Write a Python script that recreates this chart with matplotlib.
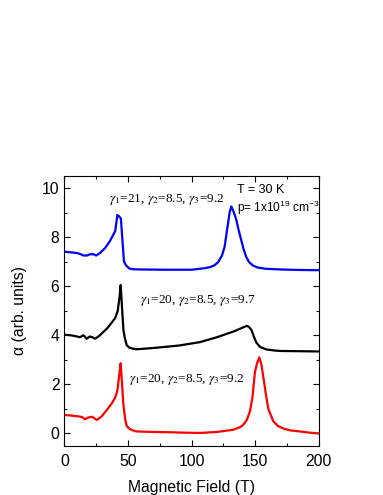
import matplotlib
matplotlib.use("Agg")
import matplotlib.pyplot as plt
from matplotlib.ticker import MultipleLocator

plt.rcParams['font.family'] = ['Liberation Sans', 'DejaVu Sans']
plt.rcParams['mathtext.fontset'] = 'custom'
plt.rcParams['mathtext.rm'] = 'Liberation Sans'
plt.rcParams['mathtext.it'] = 'Liberation Sans:italic'

# Blue curve (gamma1=21, gamma2=8.5, gamma3=9.2)
blue_x = [1, 5, 10, 13, 15, 18, 20, 23, 25, 28, 32, 36, 40, 41.7, 43, 44.5, 45.5, 46.9, 48.5, 51, 54, 60, 80, 100,
          105, 110, 115, 118, 121, 124, 126, 128, 130, 131.3, 133, 135, 137, 139, 141, 143, 145, 148, 152, 158, 170, 185, 200]
blue_y = [7.4, 7.38, 7.35, 7.3, 7.25, 7.25, 7.3, 7.3, 7.25, 7.35, 7.55, 7.85, 8.25, 8.9, 8.85, 8.75, 8.0, 7.0, 6.85, 6.72, 6.69, 6.68, 6.67, 6.67,
          6.7, 6.73, 6.78, 6.85, 6.98, 7.25, 7.6, 8.3, 9.0, 9.25, 9.05, 8.75, 8.3, 7.9, 7.5, 7.2, 7.0, 6.85, 6.76, 6.71, 6.68, 6.66, 6.65]

# Black curve (gamma1=20, gamma2=8.5, gamma3=9.7)
black_x = [0.5, 5, 10, 12.3, 15, 17.6, 20, 22, 24, 26, 28, 31, 34, 37, 40, 42, 43.5, 44.3, 45.5, 46.5, 47.5, 49, 51, 54, 57,
           70, 90, 106.7, 120, 132.9, 138, 141, 143.4, 145, 147.3, 149, 151, 154, 159, 165, 170, 185, 200]
black_y = [4.02, 4.0, 3.95, 3.92, 4.0, 3.86, 3.95, 3.92, 3.86, 3.92, 4.0, 4.15, 4.3, 4.5, 4.7, 5.0, 5.6, 6.05, 5.0, 4.2, 3.9, 3.6, 3.5, 3.45, 3.43,
           3.48, 3.58, 3.72, 3.92, 4.15, 4.26, 4.33, 4.38, 4.35, 4.2, 3.95, 3.7, 3.52, 3.42, 3.38, 3.36, 3.35, 3.34]

# Red curve (gamma1=20, gamma2=8.5, gamma3=9.2)
red_x = [0.5, 5, 10, 14, 16, 19, 22, 24, 25.5, 27, 29.4, 33.3, 37, 39.9, 41.7, 43.2, 44.3, 45.4, 46.4, 47.8, 49, 51.5, 54, 57,
         70, 80.5, 95, 106.7, 120, 132.9, 138, 140.7, 143.5, 146, 148, 149.9, 151.5, 153.3, 155, 156.5, 158.5, 160.4, 164.3, 168, 172.2, 178, 185.3, 193, 200]
red_y = [0.75, 0.73, 0.7, 0.67, 0.58, 0.65, 0.68, 0.6, 0.55, 0.6, 0.7, 0.95, 1.2, 1.45, 1.75, 2.4, 2.86, 2.0, 1.2, 0.6, 0.3, 0.18, 0.12, 0.08,
         0.06, 0.05, 0.03, 0.02, 0.06, 0.15, 0.25, 0.35, 0.55, 0.9, 1.5, 2.5, 2.85, 3.1, 2.8, 2.3, 1.6, 1.0, 0.5, 0.3, 0.2, 0.12, 0.08, 0.03, 0.0]

label_blue = r'$\gamma_1$=21, $\gamma_2$=8.5, $\gamma_3$=9.2'
label_black = r'$\gamma_1$=20, $\gamma_2$=8.5, $\gamma_3$=9.7'
label_red = r'$\gamma_1$=20, $\gamma_2$=8.5, $\gamma_3$=9.2'

fig = plt.figure(figsize=(3.83, 4.95), dpi=100)
ax = fig.add_axes([0.168, 0.0996, 0.664, 0.5454])

ax.plot(blue_x, blue_y, color='#0000ff', lw=1.6)
ax.plot(black_x, black_y, color='black', lw=1.6)
ax.plot(red_x, red_y, color='#ff0000', lw=1.6)

ax.set_xlim(0, 200)
ax.set_ylim(-0.5, 10.5)
ax.xaxis.set_major_locator(MultipleLocator(50))
ax.xaxis.set_minor_locator(MultipleLocator(25))
ax.yaxis.set_major_locator(MultipleLocator(2))
ax.yaxis.set_minor_locator(MultipleLocator(1))
ax.tick_params(which='both', direction='in', top=True, right=True, labelsize=11.3, width=0.8)
ax.tick_params(which='major', length=4)
ax.tick_params(which='minor', length=2.5)
ax.tick_params(axis='x', which='major', pad=6)
ax.tick_params(axis='y', which='major', pad=3.5)
for s in ax.spines.values():
    s.set_linewidth(0.8)

ax.set_xlabel('Magnetic Field (T)', fontsize=11.3, labelpad=8)
ax.set_ylabel('α (arb. units)', fontsize=11.3, labelpad=11)

tkw = dict(fontsize=9.5, family='Liberation Serif', math_fontfamily='stix', ha='center', va='center')
ax.text(80.5, 9.52, label_blue, **tkw)
ax.text(104.7, 5.43, label_black, **tkw)
ax.text(96.2, 2.18, label_red, **tkw)

ax.text(135.5, 9.93, 'T = 30 K', fontsize=9, ha='left', va='center')
ax.text(135.5, 9.18, r'p= 1x10$^{19}$ cm$^{-3}$', fontsize=8.6, ha='left', va='center')

fig.savefig('out.png', dpi=100)
